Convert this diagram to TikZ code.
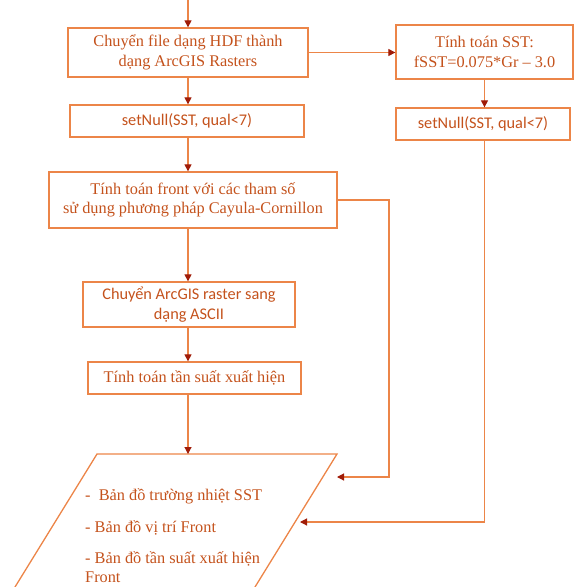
\documentclass[tikz,border=0pt]{standalone}
\usepackage{fontspec}
\setmainfont{Liberation Serif}
\newfontfamily\calib{Carlito}
\usetikzlibrary{arrows.meta}
\definecolor{boxline}{RGB}{236,133,72}
\definecolor{txt}{RGB}{196,82,28}
\definecolor{tip}{RGB}{160,28,8}
\tikzset{
  box/.style={draw=boxline, line width=1.3pt, text=txt, align=center, inner sep=2pt},
  serifbox/.style={box, font=\fontsize{16.3}{19.5}\selectfont},
  sansbox/.style={box, font=\calib\fontsize{16.3}{20}\selectfont},
  outtext/.style={anchor=base west, text=txt, inner sep=0pt, font=\fontsize{16.3}{18}\selectfont},
  arr/.style={draw=boxline, line width=1.1pt, -{Triangle[length=7pt,width=7pt,color=tip]}},
}
\begin{document}
\begin{tikzpicture}[x=1pt,y=-1pt]
\clip (0,0) rectangle (575,587);
\useasboundingbox (0,0) rectangle (575,587);
\coordinate (top) at (188,0);
\node[serifbox, minimum width=240pt, minimum height=49pt] (b1) at (188,52.5) {Chuyển file dạng HDF thành\\dạng ArcGIS Rasters};
\node[sansbox, minimum width=234pt, minimum height=32pt] (b2) at (187,121) {setNull(SST, qual<7)};
\node[serifbox, minimum width=177pt, minimum height=54pt] (r1) at (484.5,52) {Tính toán SST:\\fSST=0.075*Gr – 3.0};
\node[sansbox, minimum width=174pt, minimum height=32pt] (r2) at (483,124) {setNull(SST, qual<7)};
\node[serifbox, minimum width=288pt, minimum height=56pt] (b3) at (193,200) {Tính toán front với các tham số\\sử dụng phương pháp Cayula-Cornillon};
\node[sansbox, minimum width=212pt, minimum height=45pt] (b4) at (189,304.5) {Chuyển ArcGIS raster sang\\dạng ASCII};
\node[serifbox, minimum width=213pt, minimum height=32pt] (b5) at (194.5,378) {Tính toán tần suất xuất hiện};
% parallelogram
\coordinate (ptl) at (97,454);
\coordinate (ptr) at (337,454);
\coordinate (pbr) at (247,600);
\coordinate (pbl) at (7,600);
\draw[boxline, line width=1.3pt] (ptl) -- (ptr) -- (pbr) -- (pbl) -- cycle;
\node[outtext] (o1) at (85,500) {-\ \ Bản đồ trường nhiệt SST};
\node[outtext] (o2) at (85,532) {- Bản đồ vị trí Front};
\node[outtext] (o3) at (85,563) {- Bản đồ tần suất xuất hiện};
\node[outtext] (o4) at (85,582) {Front};
% connectors
\draw[arr] (top) -- (top |- b1.north);
\draw[arr] (b1.south -| top) -- (b2.north -| top);
\draw[arr] (b1.east) -- (b1.east -| r1.west);
\draw[arr] (r1.south) -- (r1.south |- r2.north);
\draw[arr] (b2.south -| top) -- (b3.north -| top);
\draw[arr] (b3.south -| top) -- (b4.north -| top);
\draw[arr] (b4.south -| top) -- (b5.north -| top);
\draw[arr] (b5.south -| top) -- (top |- ptl);
\coordinate (a1) at (337,477);
\coordinate (c1) at (389,477);
\draw[arr] (b3.east) -| (c1) -- (a1);
\coordinate (a2) at (300,522);
\draw[arr] (r1.south |- r2.south) |- (a2);
\end{tikzpicture}
\end{document}
